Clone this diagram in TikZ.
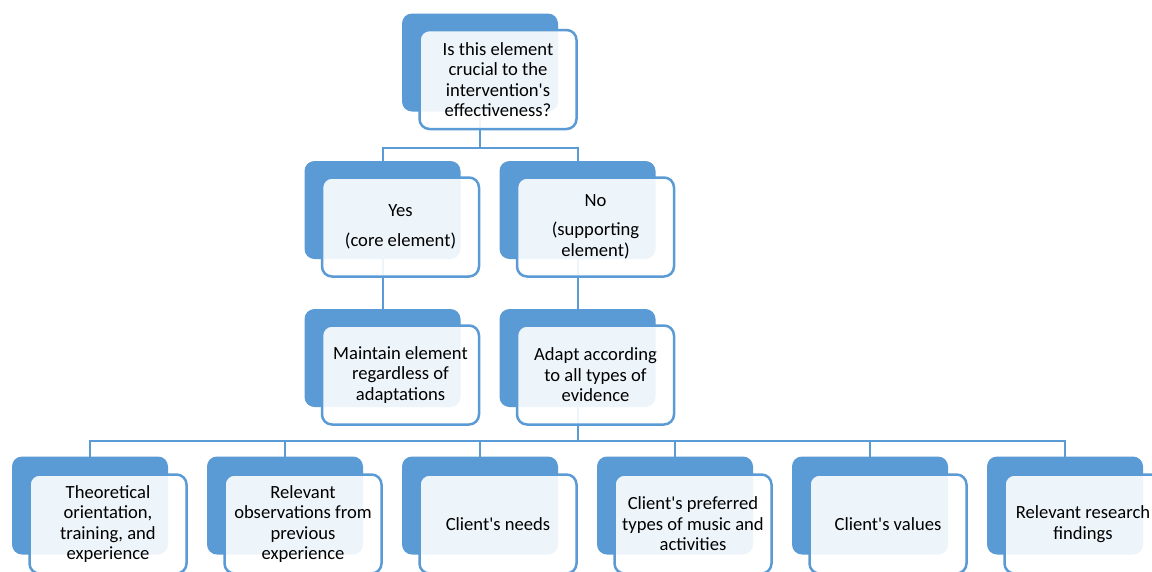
\documentclass[tikz,border=0pt]{standalone}
\usepackage{fontspec}
\setmainfont{Carlito}
\newcommand\ap{\textquotesingle}
\definecolor{accent}{HTML}{5B9BD5}
\pgfdeclarelayer{bg}
\pgfsetlayers{bg,main}
\tikzset{
  backbox/.style={fill=accent, draw=none, rounded corners=10pt, minimum width=156pt, minimum height=98pt, inner sep=0pt},
  frontbox/.style={fill=white, fill opacity=0.9, text opacity=1, draw=accent, line width=2.5pt, rounded corners=10pt,
    minimum width=157pt, minimum height=99pt, inner sep=0pt, align=center,
    font=\fontsize{18.6pt}{20.5pt}\selectfont, text=black},
  conn/.style={draw=accent, line width=2pt}
}
\begin{document}
\begin{tikzpicture}[x=1pt,y=-1pt]
\useasboundingbox (0,0) rectangle (1152,571);
\clip (0,0) rectangle (1152,571);
% level 1
\node[backbox] (qb) at (480,62.5) {};
\node[frontbox] (q) at (498,79.5) {Is this element\\crucial to the\\intervention\ap s\\effectiveness?};
% level 2
\node[backbox] (yb) at (382.5,210) {};
\node[frontbox] (y) at (400.5,227) {Yes\\[9.5pt](core element)};
\node[backbox] (nb) at (577.5,210) {};
\node[frontbox] (n) at (595.5,227) {No\\[8.5pt](supporting\\element)};
% level 3
\node[backbox] (mb) at (382.5,358) {};
\node[frontbox] (m) at (400.5,375) {Maintain element\\regardless of\\adaptations};
\node[backbox] (ab) at (577.5,358) {};
\node[frontbox] (a) at (595.5,375) {Adapt according\\to all types of\\evidence};
% level 4
\node[backbox] (b1b) at (90,505.5) {};
\node[frontbox] (b1) at (108,524) {Theoretical\\orientation,\\training, and\\experience};
\node[backbox] (b2b) at (285,505.5) {};
\node[frontbox] (b2) at (303,524) {Relevant\\observations from\\previous\\experience};
\node[backbox] (b3b) at (480,505.5) {};
\node[frontbox] (b3) at (498,524) {Client\ap s needs};
\node[backbox] (b4b) at (675,505.5) {};
\node[frontbox] (b4) at (693,524) {Client\ap s preferred\\types of music and\\activities};
\node[backbox] (b5b) at (870,505.5) {};
\node[frontbox] (b5) at (888,524) {Client\ap s values};
\node[backbox] (b6b) at (1065,505.5) {};
\node[frontbox] (b6) at (1083,524) {Relevant research\\findings};
\coordinate (bus1) at (0,148);
\coordinate (bus2) at (0,441);
\begin{pgfonlayer}{bg}
\fill[white] (0,0) rectangle (1152,571);
\draw[conn] (qb.center) -- (qb.center |- bus1);
\draw[conn] (yb.center) |- (bus1 -| nb.center) -- (nb.center);
\draw[conn] (yb.center) -- (mb.center);
\draw[conn] (nb.center) -- (ab.center);
\draw[conn] (ab.center) -- (ab.center |- bus2);
\draw[conn] (b1b.center) |- (bus2 -| b6b.center) -- (b6b.center);
\draw[conn] (b2b.center) -- (b2b.center |- bus2);
\draw[conn] (b3b.center) -- (b3b.center |- bus2);
\draw[conn] (b4b.center) -- (b4b.center |- bus2);
\draw[conn] (b5b.center) -- (b5b.center |- bus2);
\end{pgfonlayer}
\end{tikzpicture}
\end{document}
